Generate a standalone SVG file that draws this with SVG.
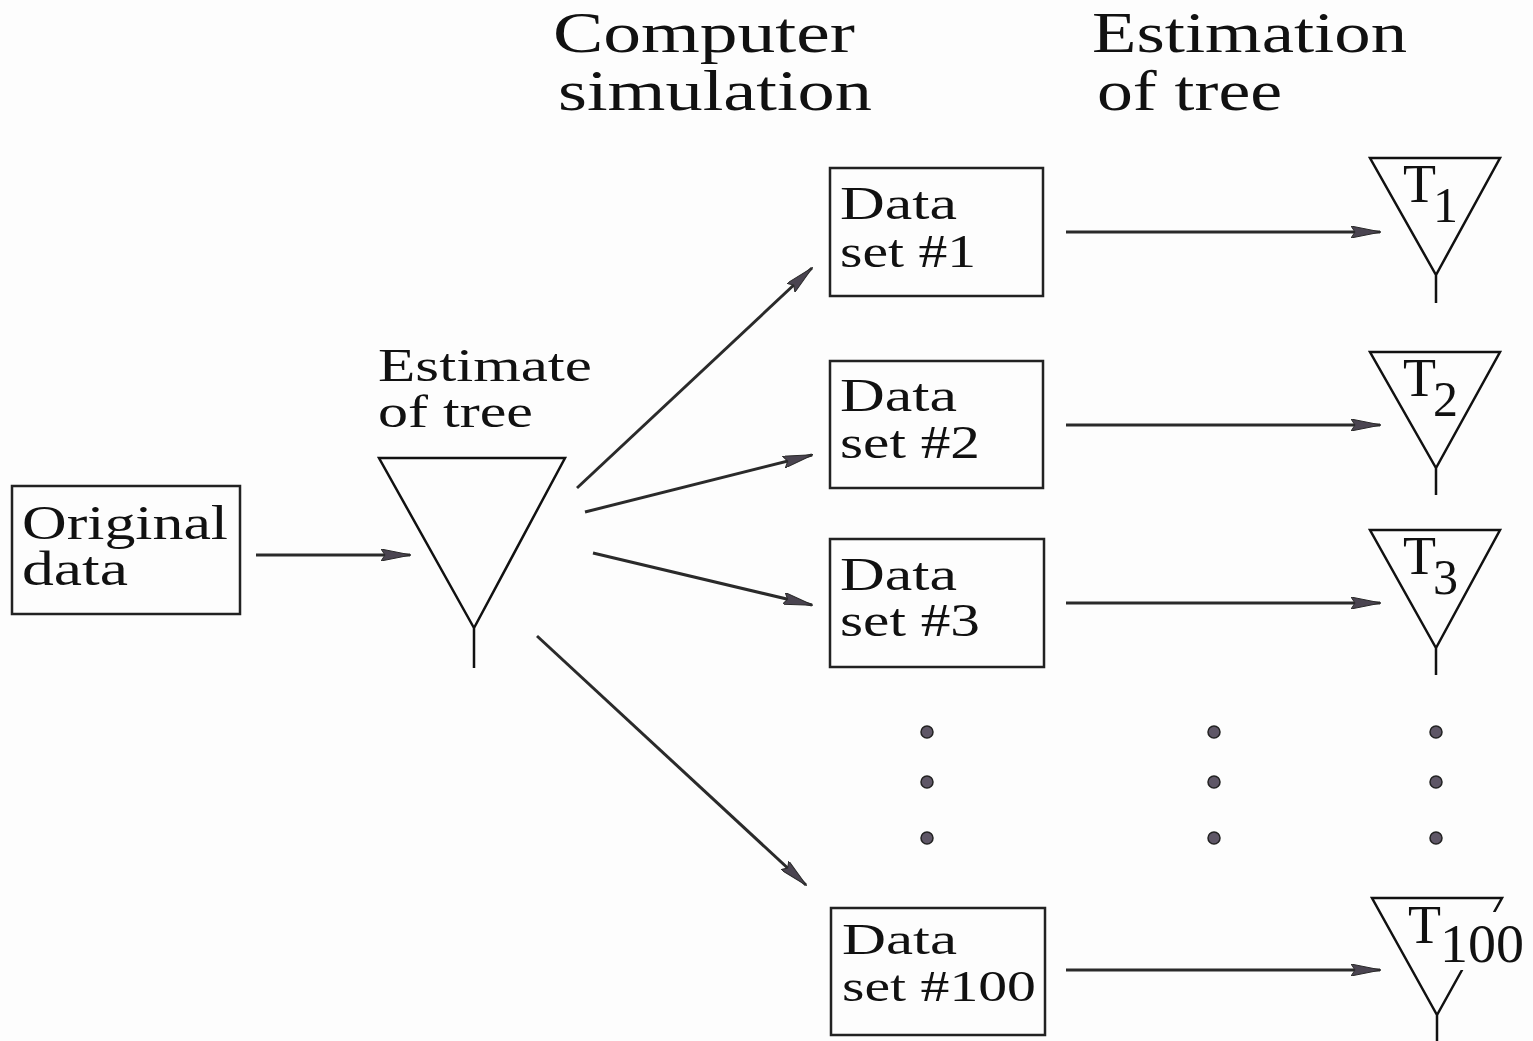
<svg xmlns="http://www.w3.org/2000/svg" width="1533" height="1041" viewBox="0 0 1533 1041">
  <style>
    .t { font-family: "Liberation Serif", "DejaVu Serif", serif; fill: #111; }
    .hd { font-size: 56px; }
    .lb { font-size: 46px; }
    .box { fill: none; stroke: #222; stroke-width: 2.5; }
    .tree { fill: none; stroke: #111; stroke-width: 2.5; stroke-linejoin: miter; }
    .conn { stroke: #2a2a2a; stroke-width: 3; fill: none; marker-end: url(#ah); }
    .dot { fill: #5e5666; stroke: #222; stroke-width: 1.5; }
  </style>
  <defs>
    <marker id="ah" viewBox="0 0 30 12" refX="29" refY="6" markerWidth="30" markerHeight="12" orient="auto" markerUnits="userSpaceOnUse">
      <path d="M0,0 L30,6 L0,12 L4,6 Z" fill="#4a4450" stroke="#2a2a2a" stroke-width="1"/>
    </marker>
  </defs>
  <rect width="1533" height="1041" fill="#fdfdfd"/>

  <!-- column headings -->
  <g id="heading-sim">
    <text class="t hd" x="553" y="52" textLength="302" lengthAdjust="spacingAndGlyphs">Computer</text>
    <text class="t hd" x="558" y="110" textLength="314" lengthAdjust="spacingAndGlyphs">simulation</text>
  </g>
  <g id="heading-est">
    <text class="t hd" x="1092" y="52" textLength="315" lengthAdjust="spacingAndGlyphs">Estimation</text>
    <text class="t hd" x="1097" y="110" textLength="185" lengthAdjust="spacingAndGlyphs">of tree</text>
  </g>

  <!-- original data -->
  <g id="original-data">
    <rect class="box" x="12" y="486" width="228" height="128"/>
    <text class="t" font-size="48" x="22" y="539" textLength="206" lengthAdjust="spacingAndGlyphs">Original</text>
    <text class="t" font-size="48" x="22" y="585" textLength="106" lengthAdjust="spacingAndGlyphs">data</text>
  </g>

  <!-- estimated tree -->
  <g id="estimate-tree">
    <text class="t lb" x="378" y="381" textLength="214" lengthAdjust="spacingAndGlyphs">Estimate</text>
    <text class="t lb" x="378" y="427" textLength="155" lengthAdjust="spacingAndGlyphs">of tree</text>
    <path class="tree" d="M379,458 L565,458 L474,628 Z M474,628 L474,668"/>
  </g>

  <!-- simulated data sets -->
  <g id="data-set-1">
    <rect class="box" x="830" y="168" width="213" height="128"/>
    <text class="t lb" x="840" y="219" textLength="117" lengthAdjust="spacingAndGlyphs">Data</text>
    <text class="t lb" x="840" y="267" textLength="136" lengthAdjust="spacingAndGlyphs">set #1</text>
  </g>
  <g id="data-set-2">
    <rect class="box" x="830" y="361" width="213" height="127"/>
    <text class="t lb" x="840" y="411" textLength="117" lengthAdjust="spacingAndGlyphs">Data</text>
    <text class="t lb" x="840" y="458" textLength="140" lengthAdjust="spacingAndGlyphs">set #2</text>
  </g>
  <g id="data-set-3">
    <rect class="box" x="830" y="539" width="214" height="128"/>
    <text class="t lb" x="840" y="590" textLength="117" lengthAdjust="spacingAndGlyphs">Data</text>
    <text class="t lb" x="840" y="636" textLength="140" lengthAdjust="spacingAndGlyphs">set #3</text>
  </g>
  <g id="data-set-100">
    <rect class="box" x="831" y="908" width="214" height="127"/>
    <text class="t" font-size="44" x="842" y="954" textLength="115" lengthAdjust="spacingAndGlyphs">Data</text>
    <text class="t" font-size="44" x="842" y="1001" textLength="194" lengthAdjust="spacingAndGlyphs">set #100</text>
  </g>

  <!-- estimated trees T1..T100 -->
  <g id="tree-1">
    <path class="tree" d="M1370,158 L1500,158 L1436,275 Z M1436,275 L1436,303"/>
    <text class="t" font-size="54" x="1403" y="202">T</text>
    <text class="t" font-size="50" x="1433" y="222">1</text>
  </g>
  <g id="tree-2">
    <path class="tree" d="M1370,352 L1500,352 L1436,468 Z M1436,468 L1436,495"/>
    <text class="t" font-size="54" x="1403" y="396">T</text>
    <text class="t" font-size="50" x="1433" y="416">2</text>
  </g>
  <g id="tree-3">
    <path class="tree" d="M1370,530 L1500,530 L1436,648 Z M1436,648 L1436,675"/>
    <text class="t" font-size="54" x="1403" y="574">T</text>
    <text class="t" font-size="50" x="1433" y="594">3</text>
  </g>
  <g id="tree-100">
    <path class="tree" d="M1372,898 L1502,898 L1437,1015 Z M1437,1015 L1437,1041"/>
    <rect x="1444" y="912" width="82" height="58" fill="#fdfdfd"/>
    <text class="t" font-size="54" x="1408" y="943">T</text>
    <text class="t" font-size="54" x="1440" y="962" textLength="84" lengthAdjust="spacingAndGlyphs">100</text>
  </g>

  <!-- ellipsis dots -->
  <g id="ellipsis">
    <circle class="dot" cx="927" cy="732" r="6"/>
    <circle class="dot" cx="927" cy="782" r="6"/>
    <circle class="dot" cx="927" cy="838" r="6"/>
    <circle class="dot" cx="1214" cy="732" r="6"/>
    <circle class="dot" cx="1214" cy="782" r="6"/>
    <circle class="dot" cx="1214" cy="838" r="6"/>
    <circle class="dot" cx="1436" cy="732" r="6"/>
    <circle class="dot" cx="1436" cy="782" r="6"/>
    <circle class="dot" cx="1436" cy="838" r="6"/>
  </g>

  <!-- connectors -->
  <g id="connectors">
    <line class="conn" x1="256" y1="555" x2="410" y2="555"/>
    <line class="conn" x1="577" y1="488" x2="812" y2="268"/>
    <line class="conn" x1="585" y1="512" x2="812" y2="455"/>
    <line class="conn" x1="593" y1="553" x2="812" y2="605"/>
    <line class="conn" x1="537" y1="636" x2="806" y2="885"/>
    <line class="conn" x1="1066" y1="232" x2="1380" y2="232"/>
    <line class="conn" x1="1066" y1="425" x2="1380" y2="425"/>
    <line class="conn" x1="1066" y1="603" x2="1380" y2="603"/>
    <line class="conn" x1="1066" y1="970" x2="1380" y2="970"/>
  </g>
</svg>
